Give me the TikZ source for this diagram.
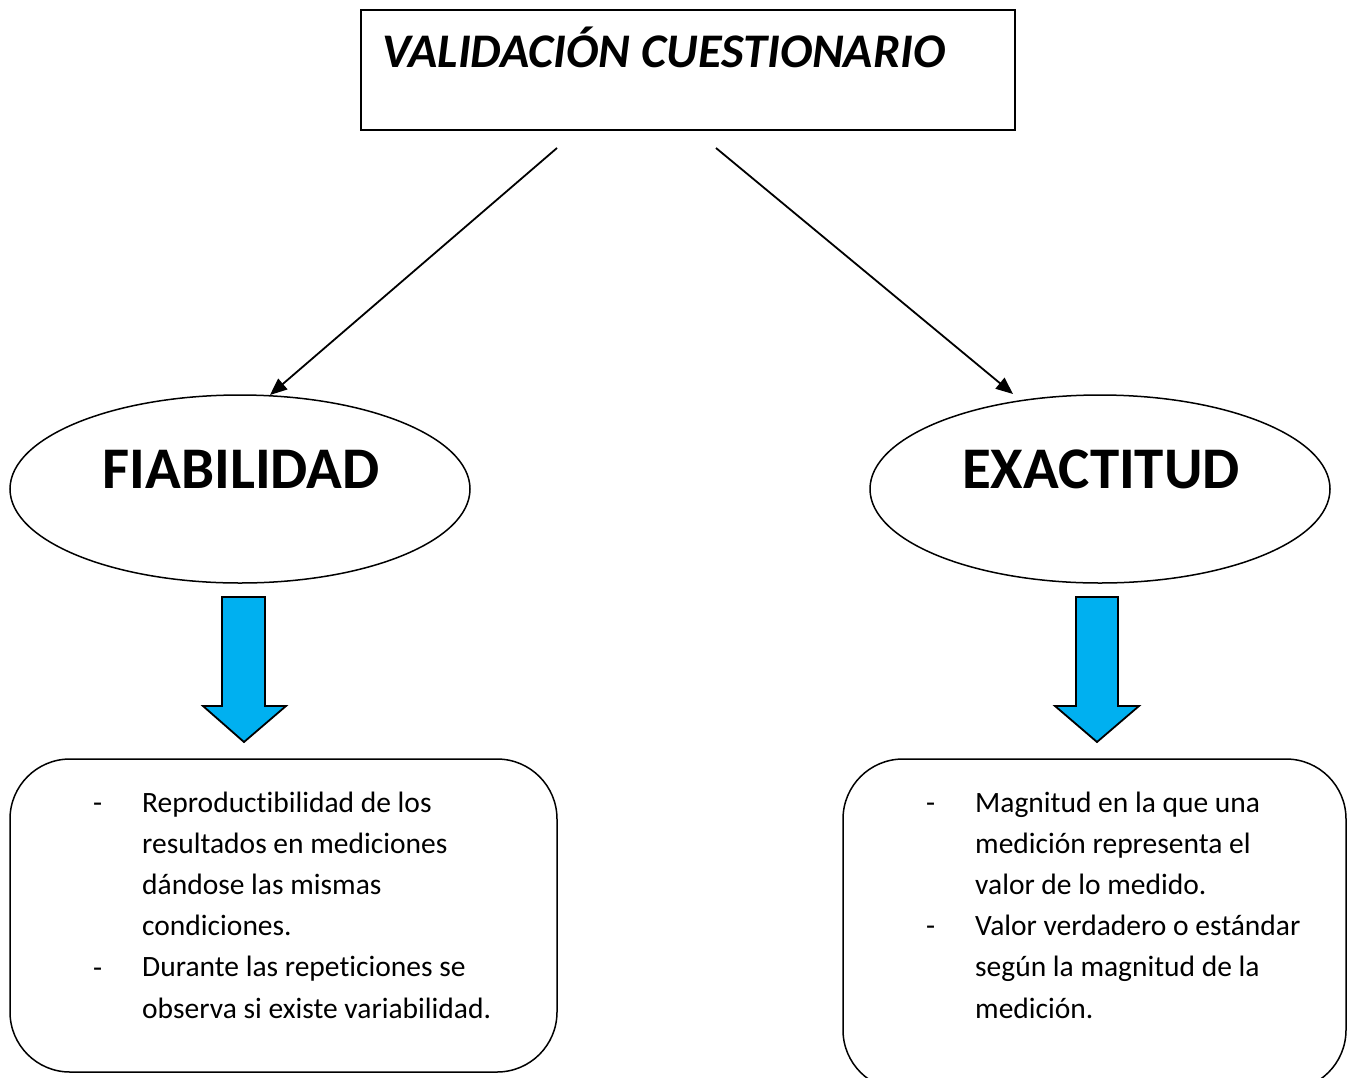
\documentclass[tikz,border=0pt]{standalone}
\usepackage{fontspec}
\setmainfont{Carlito}[Ligatures=NoCommon]
\usetikzlibrary{shapes.geometric,arrows.meta}
\definecolor{officeblue}{RGB}{0,176,240}
\tikzset{
  conn/.style={line width=1.8pt,-{Triangle[length=17pt,width=14pt]}},
  ovalbox/.style={ellipse,draw,line width=1.5pt,minimum width=460pt,minimum height=188pt,inner sep=0pt},
  roundbox/.style={draw,line width=1.5pt,rounded corners=60pt},
  blockarrow/.style={draw,line width=1.8pt,fill=officeblue,line join=miter},
  bigword/.style={font=\fontsize{59}{60}\selectfont\bfseries,inner sep=0pt,anchor=base},
  bodyline/.style={font=\fontsize{29.5}{36}\selectfont,inner sep=0pt,anchor=base west},
}
\begin{document}
\begin{tikzpicture}[x=1pt,y=-1pt]
\useasboundingbox (0,0) rectangle (1347,1077);
\fill[white] (0,0) rectangle (1347,1077);
% title box
\node[draw,line width=1.8pt,minimum width=654pt,minimum height=120pt,inner sep=0pt,anchor=north west] (title) at (360,9) {};
\node[font=\fontsize{48.3}{50}\selectfont\bfseries\itshape,inner sep=0pt,anchor=base west] (titletext) at (382,67) {VALIDACIÓN CUESTIONARIO};
% ellipses
\node[ovalbox] (fiab) at (240,489) {};
\node[ovalbox] (exac) at (1100,489) {};
\node[bigword] (fiabtext) at (241,488) {FIABILIDAD};
\node[bigword] (exactext) at (1101,488) {EXACTITUD};
% connectors
\coordinate (s1) at (557,148);
\coordinate (e1) at (270,395);
\coordinate (s2) at (716,148);
\coordinate (e2) at (1013,394);
\draw[conn] (s1) -- (e1);
\draw[conn] (s2) -- (e2);
% block arrows
\draw[blockarrow] (222,597) -- (265,597) -- (265,706) -- (286,706) -- (244,742) -- (203,706) -- (222,706) -- cycle;
\draw[blockarrow] (1076,597) -- (1118,597) -- (1118,706) -- (1139,706) -- (1097,742) -- (1055,706) -- (1076,706) -- cycle;
% rounded boxes
\draw[roundbox] (10,759) rectangle (557,1072);
\draw[roundbox] (843,759) rectangle (1346,1090);
% left text
\node[bodyline] (ld1) at (93,812) {-};
\node[bodyline] (ld2) at (93,977) {-};
\foreach \t [count=\i] in {Reproductibilidad de los,resultados en mediciones,dándose las mismas,condiciones.,Durante las repeticiones se,observa si existe variabilidad.}
  \node[bodyline] (lt\i) at (142,{812+41.2*(\i-1)}) {\t};
% right text
\node[bodyline] (rd1) at (926,812) {-};
\node[bodyline] (rd2) at (926,935) {-};
\foreach \t [count=\i] in {Magnitud en la que una,medición representa el,valor de lo medido.,Valor verdadero o estándar,según la magnitud de la,medición.}
  \node[bodyline] (rt\i) at (975,{812+41.2*(\i-1)}) {\t};
\end{tikzpicture}
\end{document}
